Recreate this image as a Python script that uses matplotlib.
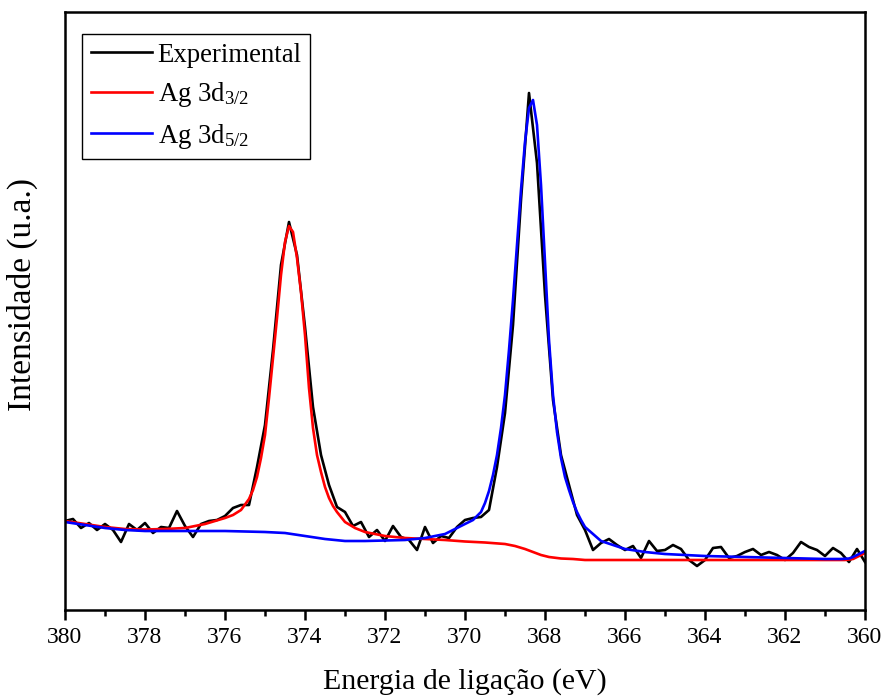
import numpy as np
import matplotlib
matplotlib.use("Agg")
import matplotlib.pyplot as plt
from matplotlib.ticker import MultipleLocator

plt.rcParams["font.family"] = ["Liberation Serif", "DejaVu Serif"]
plt.rcParams["mathtext.fontset"] = "custom"
plt.rcParams["mathtext.rm"] = "Liberation Serif"
plt.rcParams["mathtext.it"] = "Liberation Serif"

# Experimental spectrum, 380 -> 360 eV in 0.2 eV steps (arbitrary units)
energy_exp = np.round(np.arange(380.0, 359.99, -0.2), 1)
intensity_exp = [
    89, 91, 82, 87, 80, 86, 80, 68, 86, 80,
    87, 77, 83, 82, 99, 84, 73, 86, 89, 90,
    94, 102, 105, 105, 143, 185, 260, 345, 388, 355,
    283, 203, 155, 125, 103, 98, 84, 88, 73, 80,
    69, 84, 73, 70, 60, 83, 67, 74, 72, 83,
    90, 92, 93, 100, 143, 197, 285, 410, 517, 447,
    315, 210, 155, 125, 95, 80, 60, 67, 71, 65,
    60, 64, 52, 69, 59, 60, 65, 61, 50, 44,
    50, 62, 63, 52, 54, 58, 61, 55, 58, 55,
    50, 57, 68, 63, 60, 54, 62, 57, 48, 61,
    48,
]

# Fitted Ag 3d3/2 component (with background)
energy_d32 = [
    380.0, 379.5, 379.0, 378.5, 378.0, 377.5, 377.0, 376.5, 376.0, 375.8,
    375.6, 375.4, 375.3, 375.2, 375.1, 375.0, 374.9, 374.8, 374.7, 374.6,
    374.5, 374.4, 374.3, 374.2, 374.1, 374.0, 373.9, 373.8, 373.7, 373.6,
    373.5, 373.4, 373.3, 373.2, 373.0, 372.75, 372.5, 372.0, 371.5, 371.0,
    370.5, 370.0, 369.5, 369.0, 368.75, 368.5, 368.3, 368.1, 367.9, 367.6,
    367.3, 367.0, 366.0, 365.0, 364.0, 363.0, 362.0, 361.0, 360.5, 360.3,
    360.2, 360.1, 360.0,
]
intensity_d32 = [
    89, 86, 83, 81, 80.5, 81, 82, 86, 92, 95,
    100, 111, 120, 133, 152, 175, 212, 252, 292, 335,
    368, 384, 378, 352, 318, 275, 222, 182, 155, 138,
    123, 112, 104, 98, 88, 82, 78, 74, 72, 71,
    70, 68.5, 67.5, 66, 64, 61, 58, 55, 53, 51.5,
    51, 50, 50, 50, 50, 50, 50, 50, 50, 51,
    53, 55, 57,
]

# Fitted Ag 3d5/2 component (with background)
energy_d52 = [
    380.0, 379.5, 379.0, 378.5, 378.0, 377.0, 376.0, 375.0, 374.5, 374.0,
    373.5, 373.0, 372.5, 372.0, 371.5, 371.0, 370.5, 370.2, 370.0, 369.8,
    369.6, 369.5, 369.4, 369.3, 369.2, 369.1, 369.0, 368.9, 368.8, 368.7,
    368.6, 368.5, 368.4, 368.3, 368.2, 368.1, 368.0, 367.9, 367.8, 367.7,
    367.6, 367.5, 367.4, 367.3, 367.2, 367.1, 367.0, 366.6, 366.0, 365.5,
    365.0, 364.0, 363.0, 362.0, 361.0, 360.6, 360.4, 360.3, 360.2, 360.1,
    360.0,
]
intensity_d52 = [
    88, 85, 82, 80, 79, 79, 79, 78, 77, 74,
    71, 69, 69, 69.5, 70, 72, 76, 82, 86, 90,
    98, 107, 119, 135, 155, 182, 215, 260, 310, 365,
    420, 468, 502, 510, 485, 425, 348, 270, 215, 178,
    152, 133, 120, 108, 98, 90, 83, 69, 61, 58,
    56, 54, 53, 52, 51, 51, 51.5, 53, 55, 57,
    59,
]

series_labels = ["Experimental", r"Ag 3d$_{\mathrm{3/2}}$", r"Ag 3d$_{\mathrm{5/2}}$"]
x_ticks = [380, 378, 376, 374, 372, 370, 368, 366, 364, 362, 360]

fig = plt.figure(figsize=(8.85, 6.99), dpi=100)
ax = fig.add_axes([65 / 885, 89 / 699, 800 / 885, 598 / 699])

ax.plot(energy_exp, intensity_exp, color="black", lw=1.9, label=series_labels[0])
ax.plot(energy_d32, intensity_d32, color="#ff0000", lw=1.9, label=series_labels[1])
ax.plot(energy_d52, intensity_d52, color="#0000ff", lw=1.9, label=series_labels[2])

ax.set_xlim(380, 360)
ax.set_ylim(0, 598)
ax.set_xticks(x_ticks)
ax.xaxis.set_minor_locator(MultipleLocator(1))
ax.set_yticks([])
ax.tick_params(axis="x", which="major", direction="out", length=7, width=1.8,
               labelsize=17, pad=5, top=False)
ax.tick_params(axis="x", which="minor", direction="out", length=4, width=1.8, top=False)
for sp in ax.spines.values():
    sp.set_linewidth(1.8)

ax.set_xlabel("Energia de ligação (eV)", fontsize=21.5, labelpad=15)
ax.set_ylabel("Intensidade (u.a.)", fontsize=24)
ax.yaxis.set_label_coords(-0.034, 0.527)

leg = ax.legend(loc="upper left", bbox_to_anchor=(17 / 800, 576 / 598),
                borderaxespad=0, fontsize=19.3, frameon=True, fancybox=False,
                edgecolor="black", framealpha=1, handlelength=2.3,
                handletextpad=0.2, labelspacing=0.47, borderpad=0.32)
leg.get_frame().set_linewidth(1.0)

fig.savefig("out.png", dpi=100)
